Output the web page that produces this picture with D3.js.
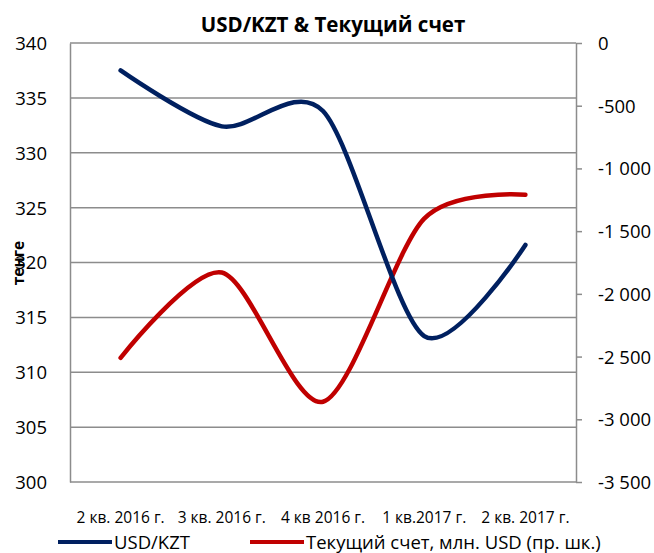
<!DOCTYPE html>
<html>
<head>
<meta charset="utf-8">
<script src="https://cdn.jsdelivr.net/npm/d3@7"></script>
<style>
  body { margin: 0; background: #fff; }
  svg text { font-family: "Open Sans", "Noto Sans", sans-serif; fill: #000; }
</style>
</head>
<body>
<svg id="chart" width="654" height="553"></svg>
<script>
// data
var quarters = ["2 кв. 2016 г.", "3 кв. 2016 г.", "4 кв 2016 г.", "1 кв.2017 г.", "2 кв. 2017 г."];
var usdKzt = [337.5, 332.4, 333.8, 313.3, 321.6];
var currentAccount = [-2510, -1830, -2860, -1400, -1210];
var leftTicks = [300, 305, 310, 315, 320, 325, 330, 335, 340];
var rightTicks = [0, -500, -1000, -1500, -2000, -2500, -3000, -3500];

var svg = d3.select("#chart"),
    MARGINS = { top: 43, right: 78, bottom: 71, left: 70 },
    WIDTH = 654,
    HEIGHT = 553;

var x = d3.scalePoint()
    .domain(quarters)
    .range([MARGINS.left, WIDTH - MARGINS.right])
    .padding(0.5);

var yLeft = d3.scaleLinear().domain([300, 340]).range([HEIGHT - MARGINS.bottom, MARGINS.top]);
var yRight = d3.scaleLinear().domain([-3500, 0]).range([HEIGHT - MARGINS.bottom, MARGINS.top]);

var fmt = function (d) {
    return d3.format(",")(d).replace(/,/g, " ").replace("−", "-");
};

// gridlines
svg.append("g")
    .selectAll("line")
    .data(leftTicks)
    .enter().append("line")
    .attr("x1", MARGINS.left)
    .attr("x2", WIDTH - MARGINS.right)
    .attr("y1", function (d) { return yLeft(d); })
    .attr("y2", function (d) { return yLeft(d); })
    .attr("stroke", "#8c8c8c")
    .attr("stroke-width", 1.5);

// left axis
var leftAxis = d3.axisLeft(yLeft).tickValues(leftTicks).tickSize(0).tickPadding(23);
var gl = svg.append("g")
    .attr("transform", "translate(" + MARGINS.left + ",0)")
    .call(leftAxis);
gl.select(".domain").attr("stroke", "#8c8c8c").attr("stroke-width", 1.5);
gl.selectAll("text").style("font-size", "18.5px").attr("dy", "0.35em");

// right axis
var rightAxis = d3.axisRight(yRight).tickValues(rightTicks).tickSize(6).tickSizeOuter(0).tickPadding(16).tickFormat(fmt);
var gr = svg.append("g")
    .attr("transform", "translate(" + (WIDTH - MARGINS.right) + ",0)")
    .call(rightAxis);
gr.select(".domain").attr("stroke", "#8c8c8c").attr("stroke-width", 1.5);
gr.selectAll(".tick line").attr("stroke", "#8c8c8c").attr("stroke-width", 1.5);
gr.selectAll("text").style("font-size", "18.5px").attr("dy", "0.35em");

// x labels
svg.append("g")
    .selectAll("text")
    .data(quarters)
    .enter().append("text")
    .attr("x", function (d) { return x(d); })
    .attr("y", 523)
    .attr("text-anchor", "middle")
    .style("font-size", "15.5px")
    .text(function (d) { return d; });

// lines
var line = function (scale) {
    return d3.line()
        .x(function (d, i) { return x(quarters[i]); })
        .y(function (d) { return scale(d); })
        .curve(d3.curveCardinal.tension(0.15));
};

svg.append("path")
    .datum(currentAccount)
    .attr("d", line(yRight))
    .attr("fill", "none")
    .attr("stroke", "#c00000")
    .attr("stroke-width", 4.5)
    .attr("stroke-linecap", "round");

svg.append("path")
    .datum(usdKzt)
    .attr("d", line(yLeft))
    .attr("fill", "none")
    .attr("stroke", "#002060")
    .attr("stroke-width", 4.5)
    .attr("stroke-linecap", "round");

// title
svg.append("text")
    .attr("x", 333)
    .attr("y", 32)
    .attr("text-anchor", "middle")
    .style("font-size", "20.5px")
    .style("font-weight", "bold")
    .text("USD/KZT & Текущий счет");

// y label
svg.append("text")
    .attr("transform", "translate(24,263) rotate(-90)")
    .attr("text-anchor", "middle")
    .style("font-size", "15.5px")
    .style("font-weight", "bold")
    .text("тенге");

// legend
var legend = [
    { name: "USD/KZT", color: "#002060", x: 58 },
    { name: "Текущий счет, млн. USD (пр. шк.)", color: "#c00000", x: 250 }
];
var lg = svg.append("g").selectAll("g").data(legend).enter().append("g")
    .attr("transform", function (d) { return "translate(" + d.x + ",542)"; });
lg.append("line")
    .attr("x1", 0).attr("x2", 54)
    .attr("stroke", function (d) { return d.color; })
    .attr("stroke-width", 4);
lg.append("text")
    .attr("x", 56)
    .attr("y", 6.5)
    .style("font-size", "18.5px")
    .text(function (d) { return d.name; });
</script>
</body>
</html>
